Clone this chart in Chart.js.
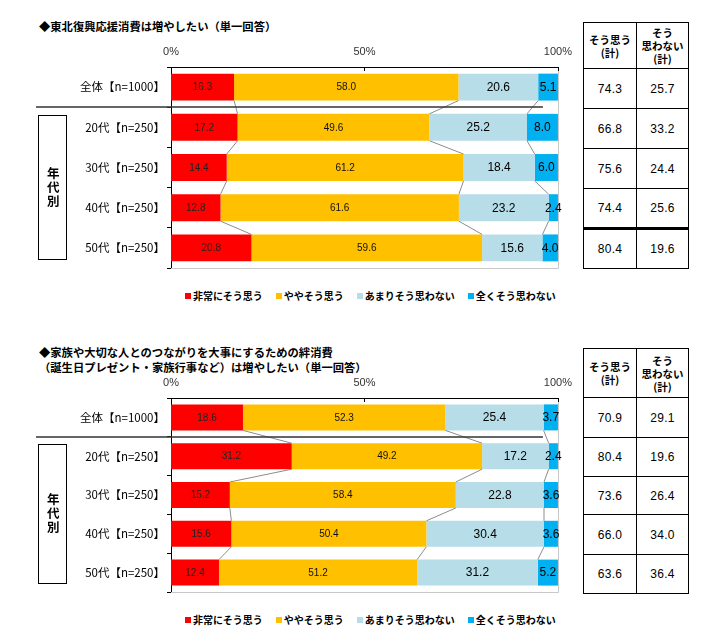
<!DOCTYPE html>
<html><head><meta charset="utf-8">
<script src="https://cdn.jsdelivr.net/npm/chart.js@4.4.0/dist/chart.umd.min.js"></script>
<style>
body{margin:0;background:#fff;width:716px;height:643px;position:relative;overflow:hidden;font-family:"Noto Sans CJK JP",sans-serif;color:#000}
.title{position:absolute;left:39px;font-size:11.3px;font-weight:bold;line-height:15px;white-space:nowrap}
.cw{position:absolute;left:0;width:580px}
.agebox{position:absolute;left:38px;width:29px;border:1px solid #000;display:flex;align-items:center;justify-content:center;box-sizing:border-box}
.agebox span{writing-mode:vertical-rl;text-orientation:upright;font-size:12.5px;font-weight:bold;letter-spacing:1.5px;line-height:1}
table.tot{position:absolute;left:583px;border-collapse:collapse;table-layout:fixed}
table.tot td{border:1px solid #000;text-align:center;vertical-align:middle;padding:0;font-family:"Liberation Sans",Arial,sans-serif;font-size:12px;letter-spacing:0.3px}
table.tot th{border:1px solid #000;text-align:center;vertical-align:middle;padding:0;font-size:10.5px;font-weight:bold;line-height:13px}
.legend{position:absolute;left:185px;display:flex;gap:13px;font-size:10px;font-weight:bold;line-height:12px;white-space:nowrap}
.legend i{display:inline-block;width:6px;height:6px;margin-right:2px;vertical-align:1px}
</style>
</head><body>
<div class="title" style="top:19px">◆東北復興応援消費は増やしたい（単一回答）</div>
<div class="cw" style="top:0;height:280px"><canvas id="c1"></canvas></div>
<div class="agebox" style="top:115px;height:145px"><span>年代別</span></div>
<div class="legend" id="lg1" style="top:290px"></div>

<div class="title" style="top:345px">◆家族や大切な人とのつながりを大事にするための絆消費<br>（誕生日プレゼント・家族行事など）は増やしたい（単一回答）</div>
<div class="cw" style="top:330px;height:275px"><canvas id="c2"></canvas></div>
<div class="agebox" style="top:444px;height:140px"><span>年代別</span></div>
<div class="legend" id="lg2" style="top:614px"></div>

<table class="tot" id="t1" style="top:22px"></table>
<table class="tot" id="t2" style="top:348px"></table>

<script>
// ---- data ----
const categories = ["全体【n=1000】","20代【n=250】","30代【n=250】","40代【n=250】","50代【n=250】"];
const seriesNames = ["非常にそう思う","ややそう思う","あまりそう思わない","全くそう思わない"];
const xTickLabels = ["0%","50%","100%"];
const tableHeaders = [["そう思う","(計)"],["そう","思わない","(計)"]];

// Chart 1: 東北復興応援消費
const c1_very = [16.3,17.2,14.4,12.8,20.8];
const c1_some = [58.0,49.6,61.2,61.6,59.6];
const c1_notmuch = [20.6,25.2,18.4,23.2,15.6];
const c1_notatall = [5.1,8.0,6.0,2.4,4.0];
const c1_agreeTotal = [74.3,66.8,75.6,74.4,80.4];
const c1_disagreeTotal = [25.7,33.2,24.4,25.6,19.6];

// Chart 2: 絆消費
const c2_very = [18.6,31.2,15.2,15.6,12.4];
const c2_some = [52.3,49.2,58.4,50.4,51.2];
const c2_notmuch = [25.4,17.2,22.8,30.4,31.2];
const c2_notatall = [3.7,2.4,3.6,3.6,5.2];
const c2_agreeTotal = [70.9,80.4,73.6,66.0,63.6];
const c2_disagreeTotal = [29.1,19.6,26.4,34.0,36.4];

// ---- styles ----
const seriesColors = ["#FF0000","#FFC000","#B7DDE8","#00B0F0"];
const labelFonts = ["10px 'Liberation Sans', Arial","10px 'Liberation Sans', Arial","12px 'Liberation Sans', Arial","12px 'Liberation Sans', Arial"];
const labelColors = ["#222","#111","#000","#000"];

const extras = {
  id:'extras',
  beforeDatasetsDraw(chart){
    const {ctx, chartArea:a} = chart;
    ctx.save();
    ctx.strokeStyle='#c8c8c8'; ctx.lineWidth=1;
    ctx.beginPath();
    ctx.moveTo(Math.round(a.right)+0.5, a.top);
    ctx.lineTo(Math.round(a.right)+0.5, Math.round(a.bottom)+0.5);
    ctx.lineTo(a.left, Math.round(a.bottom)+0.5);
    ctx.stroke();
    ctx.restore();
  },
  afterDatasetsDraw(chart){
    const {ctx, chartArea:a} = chart;
    const xs = chart.scales.x, ys = chart.scales.y;
    ctx.save();
    // series lines
    ctx.strokeStyle='#8c8c8c'; ctx.lineWidth=1;
    for (let d=0; d<3; d++){
      const els = chart.getDatasetMeta(d).data;
      for (let i=0;i<els.length-1;i++){
        const p=els[i].getProps(['x','y','height'],true), q=els[i+1].getProps(['x','y','height'],true);
        ctx.beginPath(); ctx.moveTo(p.x, p.y+p.height/2); ctx.lineTo(q.x, q.y-q.height/2); ctx.stroke();
      }
    }
    // data labels
    ctx.textAlign='center'; ctx.textBaseline='middle';
    chart.data.datasets.forEach((ds,d)=>{
      const els = chart.getDatasetMeta(d).data;
      ctx.font = labelFonts[d]; ctx.fillStyle = labelColors[d];
      els.forEach((el,i)=>{
        const p = el.getProps(['x','y','base'],true);
        ctx.fillText(ds.data[i].toFixed(1), (p.x+p.base)/2, p.y+0.5);
      });
    });
    // top axis inward ticks
    ctx.strokeStyle='#000'; ctx.lineWidth=1;
    [0,50,100].forEach(v=>{
      const x=Math.round(xs.getPixelForValue(v))+0.5;
      ctx.beginPath(); ctx.moveTo(x,a.top); ctx.lineTo(x,a.top+4); ctx.stroke();
    });
    // separator between 全体 and 年代別
    const sy = Math.round((ys.getPixelForValue(0)+ys.getPixelForValue(1))/2);
    ctx.strokeStyle='#333'; ctx.lineWidth=1.5;
    ctx.beginPath(); ctx.moveTo(36,sy); ctx.lineTo(a.right-15,sy); ctx.stroke();
    ctx.restore();
  }
};

function makeChart(id, series, axisH, padBottom){
  return new Chart(document.getElementById(id), {
    type:'bar',
    data:{
      labels:categories,
      datasets: series.map((s,k)=>({label:seriesNames[k], data:s, backgroundColor:seriesColors[k], borderWidth:0,
        categoryPercentage:1, barPercentage:0.67}))
    },
    options:{
      indexAxis:'y', responsive:true, maintainAspectRatio:false, animation:false,
      layout:{padding:{left:0,right:19,top:0,bottom:padBottom}},
      plugins:{legend:{display:false}, tooltip:{enabled:false}},
      scales:{
        x:{position:'top', stacked:true, min:0, max:100,
          afterBuildTicks(s){ s.ticks=[{value:0},{value:50},{value:100}]; },
          afterFit(s){ s.height = axisH; },
          ticks:{padding:8, callback:(v)=>xTickLabels[[0,50,100].indexOf(v)], color:'#333',
            font:{family:"'Liberation Sans', Arial", size:11}},
          grid:{display:false, drawTicks:false},
          border:{display:true, color:'#000', width:1}},
        y:{stacked:true,
          afterFit(s){ s.width = 171; },
          ticks:{padding:2, color:'#000', font:{family:"'Noto Sans CJK JP'", size:11.5}},
          grid:{display:true, drawOnChartArea:false, drawTicks:true, tickLength:4, color:'#000', offset:true},
          border:{display:true, color:'#000', width:1}}
      }
    },
    plugins:[extras]
  });
}

makeChart('c1',[c1_very,c1_some,c1_notmuch,c1_notatall],67,12);
makeChart('c2',[c2_very,c2_some,c2_notmuch,c2_notatall],68,13);

function buildLegend(id){
  const el=document.getElementById(id);
  seriesNames.forEach((n,k)=>{
    const s=document.createElement('span');
    s.innerHTML='<i style="background:'+seriesColors[k]+'"></i>'+n;
    el.appendChild(s);
  });
}
buildLegend('lg1'); buildLegend('lg2');

function buildTable(id, agree, disagree, headH, rowHs, thickRow){
  const t=document.getElementById(id);
  let h='<colgroup><col style="width:53px"><col style="width:52px"></colgroup>';
  h+='<tr style="height:'+headH+'px"><th>'+tableHeaders[0].join('<br>')+'</th><th>'+tableHeaders[1].join('<br>')+'</th></tr>';
  agree.forEach((v,i)=>{
    const bt = (i===thickRow)?'border-top:3px solid #000;':'';
    h+='<tr style="height:'+rowHs[i]+'px"><td style="'+bt+'">'+v.toFixed(1)+'</td><td style="'+bt+'">'+disagree[i].toFixed(1)+'</td></tr>';
  });
  t.innerHTML=h;
}
buildTable('t1', c1_agreeTotal, c1_disagreeTotal, 46, [40,40,40,40,40], 4);
buildTable('t2', c2_agreeTotal, c2_disagreeTotal, 49, [40,39,38,40,39], -1);
</script>
</body></html>
